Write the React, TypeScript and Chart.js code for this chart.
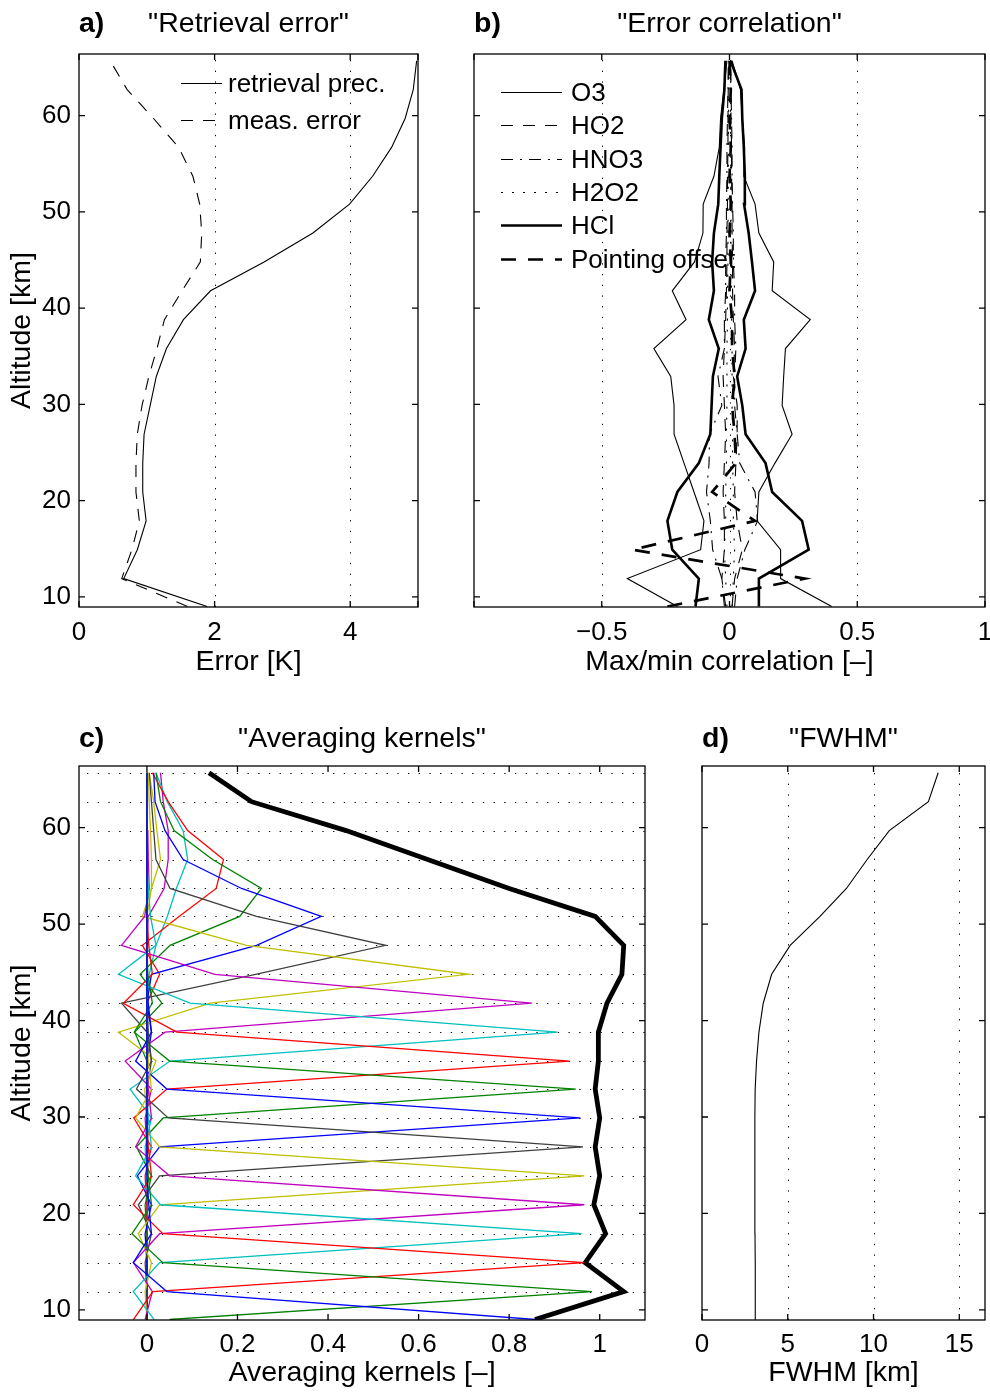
import React, { useEffect, useRef } from 'react';
import { Chart, registerables } from 'chart.js';

Chart.register(...registerables);

const FONT = "'Liberation Sans', Arial, Helvetica, sans-serif";
const FS = 26; // tick labels and legends
const FS_LABEL = 28.5; // titles and axis labels
Chart.defaults.font.family = FONT;
Chart.defaults.font.size = FS;
Chart.defaults.color = '#000';

// Retrieval levels [km]
const levels = [9.0, 11.9, 14.9, 17.9, 20.9, 23.9, 26.9, 29.9, 32.9, 35.8, 38.8, 41.8, 44.8, 47.8, 50.8, 53.7, 56.7, 59.7, 62.7, 65.7];
const altitudeTicks = [10, 20, 30, 40, 50, 60];

// a) Retrieval error [K]
const retrievalPrec = [1.89, 0.66, 0.86, 0.99, 0.94, 0.94, 0.96, 1.05, 1.14, 1.29, 1.54, 1.94, 2.73, 3.45, 3.99, 4.33, 4.61, 4.81, 4.93, 4.98];
const measError = [1.60, 0.63, 0.78, 0.89, 0.84, 0.84, 0.86, 0.93, 1.03, 1.15, 1.26, 1.52, 1.79, 1.81, 1.78, 1.68, 1.47, 1.10, 0.71, 0.46];
const errorTicks = [0, 2, 4, 5];
const errorTickLabels = ['0', '2', '4', ''];

// b) Max/min error correlation with temperature
const o3Max = [0.40, 0.20, 0.20, 0.108, 0.115, 0.178, 0.245, 0.206, 0.212, 0.219, 0.316, 0.167, 0.173, 0.115, 0.10, 0.056, 0.059, 0.05, 0.043, 0.01];
const o3Min = [-0.204, -0.40, -0.113, -0.10, -0.139, -0.178, -0.217, -0.217, -0.23, -0.296, -0.17, -0.224, -0.137, -0.104, -0.103, -0.061, -0.04, -0.035, -0.022, -0.01];
const ho2Max = [0.01, 0.02, 0.05, 0.03, 0.02, 0.025, 0.03, 0.03, 0.015, 0.02, 0.015, 0.012, 0.012, 0.01, 0.01, 0.008, 0.008, 0.006, 0.005, 0.004];
const ho2Min = [-0.015, -0.03, -0.02, -0.02, -0.025, -0.02, -0.015, -0.02, -0.025, -0.02, -0.015, -0.012, -0.01, -0.01, -0.008, -0.008, -0.006, -0.006, -0.005, -0.004];
const hno3Max = [0.02, 0.03, 0.06, 0.11, 0.10, 0.04, 0.03, 0.02, 0.02, 0.025, 0.02, 0.02, 0.015, 0.015, 0.012, 0.01, 0.01, 0.008, 0.006, 0.004];
const hno3Min = [-0.02, -0.03, -0.066, -0.075, -0.09, -0.08, -0.078, -0.03, -0.045, -0.02, -0.02, -0.015, -0.015, -0.012, -0.012, -0.01, -0.01, -0.008, -0.006, -0.004];
const h2o2Max = [0.01, 0.015, 0.02, 0.015, 0.015, 0.012, 0.012, 0.01, 0.01, 0.01, 0.008, 0.008, 0.006, 0.006, 0.005, 0.005, 0.004, 0.004, 0.003, 0.002];
const h2o2Min = [-0.01, -0.015, -0.02, -0.015, -0.015, -0.012, -0.012, -0.01, -0.01, -0.01, -0.008, -0.008, -0.006, -0.006, -0.005, -0.005, -0.004, -0.004, -0.003, -0.002];
const hclMax = [0.115, 0.115, 0.31, 0.284, 0.167, 0.141, 0.063, 0.05, 0.03, 0.063, 0.056, 0.10, 0.088, 0.075, 0.057, 0.06, 0.056, 0.05, 0.047, 0.004];
const hclMin = [-0.133, -0.12, -0.224, -0.243, -0.204, -0.12, -0.075, -0.07, -0.065, -0.042, -0.081, -0.061, -0.068, -0.061, -0.044, -0.04, -0.035, -0.03, -0.02, -0.016];
const pointingOffset = [-0.243, 0.294, -0.38, 0.10, -0.068, 0.025, 0.02, 0.01, 0.02, 0.01, 0.01, 0.0, 0.005, 0.0, 0.005, 0.0, 0.005, 0.0, 0.005, 0.0];
const corrTicks = [-1, -0.5, 0, 0.5, 1];
const corrTickLabels = ['', '−0.5', '0', '0.5', '1'];

// c) Averaging kernels, one row per nominal level (values at each level)
const kernel09 = [0.857, 0.044, -0.030, 0.010, 0.004, 0, 0, 0, 0, 0, 0, 0, 0, 0, 0, 0, 0, 0, 0, 0];
const kernel12 = [0.050, 0.983, 0.035, -0.033, 0.010, 0.003, 0, 0, 0, 0, 0, 0, 0, 0, 0, 0, 0, 0, 0, 0];
const kernel15 = [-0.030, 0.013, 0.966, 0.035, -0.030, 0.010, 0.003, 0, 0, 0, 0, 0, 0, 0, 0, 0, 0, 0, 0, 0];
const kernel18 = [0.016, -0.030, 0.028, 0.960, 0.030, -0.025, 0.010, 0.003, 0, 0, 0, 0, 0, 0, 0, 0, 0, 0, 0, 0];
const kernel21 = [-0.004, 0.012, -0.030, 0.028, 0.966, 0.050, -0.025, 0.010, 0.003, 0, 0, 0, 0, 0, 0, 0, 0, 0, 0, 0];
const kernel24 = [0, -0.004, 0.010, -0.019, 0.028, 0.966, 0.028, -0.025, 0.010, 0.003, 0, 0, 0, 0, 0, 0, 0, 0, 0, 0];
const kernel27 = [0, 0, -0.004, 0.010, -0.019, 0.028, 0.963, 0.047, -0.023, 0.010, 0.003, 0, 0, 0, 0, 0, 0, 0, 0, 0];
const kernel30 = [0, 0, 0, -0.004, 0.010, -0.021, 0.028, 0.957, 0.044, -0.025, 0.010, 0.003, 0, 0, 0, 0, 0, 0, 0, 0];
const kernel33 = [0, 0, 0, 0, -0.004, 0.010, -0.023, 0.036, 0.947, 0.050, -0.028, 0.012, 0.002, 0, 0, 0, 0, 0, 0, 0];
const kernel36 = [0, 0, 0, 0, 0, -0.004, 0.010, -0.029, 0.044, 0.933, 0.066, -0.052, 0.012, 0.004, 0, 0, 0, 0, 0, 0];
const kernel39 = [0, 0, 0, 0, 0, 0, -0.004, 0.010, -0.037, 0.051, 0.907, 0.095, -0.063, 0.020, 0.008, 0.003, 0, 0, 0, 0];
const kernel42 = [0, 0, 0, 0, 0, 0, 0, -0.004, 0.010, -0.048, 0.040, 0.850, 0.150, -0.056, -0.005, 0.005, 0.003, 0.002, 0.001, 0.001];
const kernel45 = [0, 0, 0, 0, 0, 0, 0, 0, -0.005, 0.020, -0.063, 0.140, 0.710, 0.220, -0.010, 0.010, 0.010, 0.008, 0.005, 0.003];
const kernel48 = [0, 0, 0, 0, 0, 0, 0, 0, 0, 0.010, 0.000, -0.056, 0.240, 0.527, 0.242, 0.051, 0.020, 0.015, 0.010, 0.005];
const kernel51 = [0, 0, 0, 0, 0, 0, 0, 0, 0, 0, 0.010, 0.000, 0.010, 0.242, 0.385, 0.209, 0.080, 0.040, 0.018, 0.015];
const kernel54 = [0, 0, 0, 0, 0, 0, 0, 0, 0, 0, -0.027, 0.033, -0.015, 0.051, 0.205, 0.253, 0.145, 0.060, 0.030, 0.020];
const kernel57 = [0, 0, 0, 0, 0, 0, 0, 0, 0, 0, 0, 0, 0.028, -0.010, 0.071, 0.153, 0.169, 0.090, 0.047, 0.012];
const kernel60 = [0, 0, 0, 0, 0, 0, 0, 0, 0, 0, 0, 0, 0.005, 0.020, 0.045, 0.065, 0.090, 0.080, 0.045, 0.020];
const kernel63 = [0, 0, 0, 0, 0, 0, 0, 0, 0, 0, 0, 0, 0, 0, 0.003, 0.038, 0.047, 0.047, 0.036, 0.030];
const kernel66 = [0, 0, 0, 0, 0, 0, 0, 0, 0, 0, 0, 0, 0, 0, 0, 0.010, 0.030, 0.022, 0.015, 0.005];
const kernels = [kernel09, kernel12, kernel15, kernel18, kernel21, kernel24, kernel27, kernel30, kernel33, kernel36,
  kernel39, kernel42, kernel45, kernel48, kernel51, kernel54, kernel57, kernel60, kernel63, kernel66];
const kernelColors = ['#0000ff', '#008000', '#ff0000', '#00bfbf', '#bf00bf', '#bfbf00', '#404040'];
const measResponse = [0.857, 1.053, 0.968, 1.013, 0.987, 1.0, 0.99, 1.0, 0.99, 0.997, 0.997, 1.016, 1.049, 1.053, 0.99, 0.80, 0.62, 0.44, 0.231, 0.137];
const akTicks = [0, 0.2, 0.4, 0.6, 0.8, 1];

// d) Vertical resolution
const fwhm = [3.12, 3.11, 3.10, 3.09, 3.08, 3.08, 3.08, 3.09, 3.10, 3.18, 3.32, 3.57, 4.06, 5.14, 6.88, 8.42, 9.63, 10.92, 13.2, 13.77];
const fwhmTicks = [0, 5, 10, 15];

type Style = { color: string; width: number; dash?: number[] };
const THIN: Style = { color: '#000', width: 1.1 };
const THIN_DASH: Style = { color: '#000', width: 1.1, dash: [12, 10] };
const THIN_DASHDOT: Style = { color: '#000', width: 1.1, dash: [12, 7, 2, 7] };
const THIN_DOT: Style = { color: '#000', width: 1.1, dash: [2, 9] };
const THICK: Style = { color: '#000', width: 2.6 };
const THICK_DASH: Style = { color: '#000', width: 2.7, dash: [15, 12] };

const profile = (vals: number[]) => vals.map((v, i) => ({ x: v, y: levels[i] }));

function line(label: string, vals: number[], s: Style) {
  return {
    label,
    data: profile(vals),
    showLine: true,
    pointRadius: 0,
    pointHoverRadius: 0,
    borderColor: s.color,
    borderWidth: s.width,
    borderDash: s.dash || [],
    borderCapStyle: 'butt',
    borderJoinStyle: 'miter',
    fill: false,
    tension: 0,
  };
}

function axis(min: number, max: number, values: number[], o: any) {
  return {
    type: 'linear',
    position: o.horizontal ? 'bottom' : 'left',
    min,
    max,
    grid: { display: false, drawTicks: false },
    border: { display: false },
    ticks: {
      display: o.labels !== null,
      padding: o.tickPadding ?? 8,
      autoSkip: false,
      maxRotation: 0,
      color: '#000',
      font: { size: FS, family: FONT },
      callback: (v: number, i: number) => (o.labels ? o.labels[i] : String(v)),
    },
    title: o.title
      ? { display: true, text: o.title, color: '#000', font: { size: FS_LABEL, family: FONT }, padding: o.titlePadding }
      : { display: false },
    afterBuildTicks: (s: any) => {
      s.ticks = values.map((v) => ({ value: v }));
    },
    afterFit: (s: any) => {
      if (o.horizontal) s.height = o.size;
      else s.width = o.size;
      s.paddingLeft = 0;
      s.paddingRight = 0;
      s.paddingTop = 0;
      s.paddingBottom = 0;
    },
  };
}

// dotted grid, inward ticks on all four sides, box and an in-axes legend
const framePlugin = {
  id: 'frame',
  beforeDatasetsDraw(chart: any, _a: any, opts: any) {
    const { ctx, chartArea: a, scales } = chart;
    ctx.save();
    ctx.beginPath();
    ctx.rect(a.left, a.top, a.right - a.left, a.bottom - a.top);
    ctx.clip();
    ctx.strokeStyle = '#000';
    ctx.lineWidth = 1;
    ctx.setLineDash([1.3, 9.4]);
    for (const v of opts.xGrid || []) {
      const px = Math.round(scales.x.getPixelForValue(v)) + 0.5;
      ctx.beginPath();
      ctx.moveTo(px, a.bottom);
      ctx.lineTo(px, a.top);
      ctx.stroke();
    }
    for (const v of opts.yGrid || []) {
      const py = Math.round(scales.y.getPixelForValue(v)) + 0.5;
      ctx.beginPath();
      ctx.moveTo(a.left + 8, py);
      ctx.lineTo(a.right, py);
      ctx.stroke();
    }
    ctx.restore();
  },
  afterDatasetsDraw(chart: any, _a: any, opts: any) {
    const { ctx, chartArea: a, scales } = chart;
    const tl = 6;
    ctx.save();
    ctx.setLineDash([]);
    ctx.strokeStyle = '#000';
    ctx.lineWidth = 1.3;
    ctx.beginPath();
    for (const t of scales.x.ticks) {
      const px = scales.x.getPixelForValue(t.value);
      ctx.moveTo(px, a.bottom);
      ctx.lineTo(px, a.bottom - tl);
      ctx.moveTo(px, a.top);
      ctx.lineTo(px, a.top + tl);
    }
    for (const t of scales.y.ticks) {
      const py = scales.y.getPixelForValue(t.value);
      ctx.moveTo(a.left, py);
      ctx.lineTo(a.left + tl, py);
      ctx.moveTo(a.right, py);
      ctx.lineTo(a.right - tl, py);
    }
    ctx.stroke();
    ctx.strokeRect(a.left, a.top, a.right - a.left, a.bottom - a.top);

    const lg = opts.legend;
    if (lg) {
      ctx.font = `${FS}px ${FONT}`;
      ctx.fillStyle = '#000';
      ctx.textBaseline = 'middle';
      ctx.textAlign = 'left';
      lg.items.forEach((it: any, i: number) => {
        const y = Math.round(a.top + lg.top + i * lg.step) + 0.5;
        ctx.beginPath();
        ctx.setLineDash(it.style.dash || []);
        ctx.lineWidth = it.style.width;
        ctx.strokeStyle = it.style.color;
        ctx.moveTo(a.left + lg.x0, y);
        ctx.lineTo(a.left + lg.x1, y);
        ctx.stroke();
        ctx.setLineDash([]);
        ctx.fillText(it.text, a.left + lg.textX, y + 1);
      });
    }
    ctx.restore();
  },
};

function baseOptions(padding: any, frame: any, x: any, y: any) {
  return {
    responsive: false,
    maintainAspectRatio: false,
    animation: false,
    devicePixelRatio: 1,
    events: [],
    layout: { padding },
    plugins: { legend: { display: false }, tooltip: { enabled: false }, title: { display: false }, frame },
    scales: { x, y },
  };
}

const altMin = 8.95;
const altMax = 66.4;

function configA() {
  return {
    type: 'scatter',
    data: {
      datasets: [line('retrieval prec.', retrievalPrec, THIN), line('meas. error', measError, THIN_DASH)],
    },
    options: baseOptions(
      { left: 0, top: 54, right: 32, bottom: 0 },
      {
        xGrid: [2, 4],
        legend: {
          x0: 102, x1: 143, textX: 149, top: 29, step: 37,
          items: [{ text: 'retrieval prec.', style: THIN }, { text: 'meas. error', style: THIN_DASH }],
        },
      },
      axis(0, 5, errorTicks, { horizontal: true, size: 88, labels: errorTickLabels, tickPadding: 10, title: 'Error [K]', titlePadding: { top: 0, bottom: 16 } }),
      axis(altMin, altMax, altitudeTicks, { horizontal: false, size: 79, tickPadding: 8, title: 'Altitude [km]', titlePadding: { top: 5, bottom: 0 } })
    ),
    plugins: [framePlugin],
  };
}

function configB() {
  return {
    type: 'scatter',
    data: {
      datasets: [
        line('O3 max', o3Max, THIN), line('O3 min', o3Min, THIN),
        line('HO2 max', ho2Max, THIN_DASH), line('HO2 min', ho2Min, THIN_DASH),
        line('HNO3 max', hno3Max, THIN_DASHDOT), line('HNO3 min', hno3Min, THIN_DASHDOT),
        line('H2O2 max', h2o2Max, THIN_DOT), line('H2O2 min', h2o2Min, THIN_DOT),
        line('HCl max', hclMax, THICK), line('HCl min', hclMin, THICK),
        line('Pointing offset', pointingOffset, THICK_DASH),
      ],
    },
    options: baseOptions(
      { left: 0, top: 54, right: 5, bottom: 0 },
      {
        xGrid: [-0.5, 0, 0.5],
        legend: {
          x0: 27, x1: 88, textX: 97, top: 38, step: 33.3,
          items: [
            { text: 'O3', style: THIN }, { text: 'HO2', style: THIN_DASH }, { text: 'HNO3', style: THIN_DASHDOT },
            { text: 'H2O2', style: THIN_DOT }, { text: 'HCl', style: THICK }, { text: 'Pointing offset', style: THICK_DASH },
          ],
        },
      },
      axis(-1, 1, corrTicks, { horizontal: true, size: 88, labels: corrTickLabels, tickPadding: 10, title: 'Max/min correlation [–]', titlePadding: { top: 0, bottom: 16 } }),
      axis(altMin, altMax, altitudeTicks, { horizontal: false, size: 24, labels: null })
    ),
    plugins: [framePlugin],
  };
}

function configC() {
  const sets: any[] = kernels.map((k, i) =>
    line(`AK ${i}`, k, { color: kernelColors[i % kernelColors.length], width: 1.3 })
  );
  sets.push(line('measurement response', measResponse, { color: '#000', width: 4.8 }));
  return {
    type: 'scatter',
    data: { datasets: sets },
    options: baseOptions(
      { left: 0, top: 71, right: 27, bottom: 0 },
      { yGrid: levels },
      axis(-0.15, 1.1, akTicks, { horizontal: true, size: 72, tickPadding: 9, title: 'Averaging kernels [–]', titlePadding: { top: 0, bottom: 2 } }),
      axis(altMin, altMax, altitudeTicks, { horizontal: false, size: 79, tickPadding: 8, title: 'Altitude [km]', titlePadding: { top: 5, bottom: 0 } })
    ),
    plugins: [framePlugin],
  };
}

function configD() {
  return {
    type: 'scatter',
    data: { datasets: [line('FWHM', fwhm, { color: '#000', width: 1.1 })] },
    options: baseOptions(
      { left: 0, top: 71, right: 5, bottom: 0 },
      { xGrid: [5, 10, 15] },
      axis(0, 16.5, fwhmTicks, { horizontal: true, size: 72, tickPadding: 9, title: 'FWHM [km]', titlePadding: { top: 0, bottom: 2 } }),
      axis(altMin, altMax, altitudeTicks, { horizontal: false, size: 30, labels: null })
    ),
    plugins: [framePlugin],
  };
}

function Panel({ left, top, width, height, build }: any) {
  const ref = useRef<HTMLCanvasElement>(null);
  useEffect(() => {
    const chart = new Chart(ref.current as HTMLCanvasElement, build());
    return () => chart.destroy();
  }, [build]);
  return (
    <canvas
      ref={ref}
      width={width}
      height={height}
      style={{ position: 'absolute', left, top, width, height, display: 'block' }}
    />
  );
}

const textStyle: React.CSSProperties = {
  position: 'absolute',
  fontFamily: FONT,
  fontSize: FS_LABEL,
  lineHeight: '32px',
  color: '#000',
  whiteSpace: 'nowrap',
};

function Heading({ left, width, top, letter, text }: any) {
  return (
    <>
      <div style={{ ...textStyle, left, top, fontWeight: 'bold' }}>{letter}</div>
      <div style={{ ...textStyle, left, top, width, textAlign: 'center' }}>{text}</div>
    </>
  );
}

export default function App() {
  return (
    <div style={{ position: 'absolute', left: 0, top: 0, width: 990, height: 1392, background: '#fff', overflow: 'hidden' }}>
      <Panel left={0} top={0} width={450} height={695} build={configA} />
      <Panel left={450} top={0} width={540} height={695} build={configB} />
      <Panel left={0} top={695} width={672} height={697} build={configC} />
      <Panel left={672} top={695} width={318} height={697} build={configD} />
      <Heading left={79} width={339} top={6} letter="a)" text={'"Retrieval error"'} />
      <Heading left={474} width={511} top={6} letter="b)" text={'"Error correlation"'} />
      <Heading left={79} width={566} top={721} letter="c)" text={'"Averaging kernels"'} />
      <Heading left={702} width={283} top={721} letter="d)" text={'"FWHM"'} />
    </div>
  );
}
